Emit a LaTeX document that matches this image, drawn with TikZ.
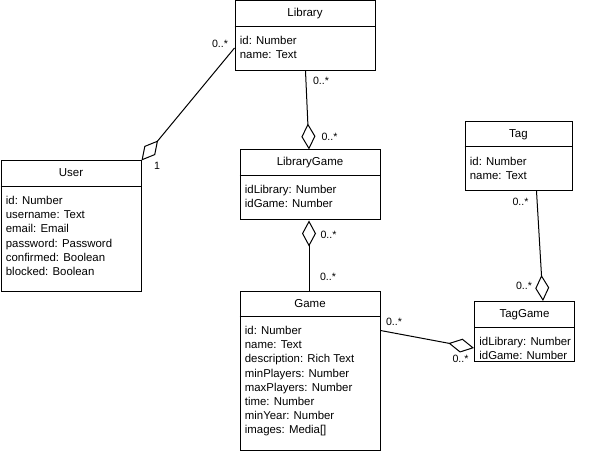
\documentclass[tikz,border=0pt]{standalone}
\usepackage{fontspec}
\setmainfont{Liberation Sans}
\usetikzlibrary{arrows.meta}

\tikzset{
  classbox/.style={draw, line width=1pt, inner sep=0pt, anchor=north west},
  classline/.style={line width=1pt},
  titletext/.style={inner sep=0pt, font=\fontsize{11.5pt}{14.2pt}\selectfont},
  attrtext/.style={inner sep=0pt, align=left, font=\fontsize{11.4pt}{14.2pt}\selectfont},
  lbl/.style={inner sep=0pt, font=\fontsize{10.6pt}{13pt}\selectfont},
  conn/.style={line width=1pt},
  aggend/.style={conn, -{Diamond[open, length=26pt, width=14pt]}},
  aggstart/.style={conn, {Diamond[open, length=26pt, width=14pt]}-},
}

\newcommand\umlclass[7]{%
  \node[classbox, minimum width=#4pt, minimum height=#5pt] (#1) at (#2,#3) {};
  \draw[classline] ([yshift=-26pt]#1.north west) -- ([yshift=-26pt]#1.north east);
  \node[titletext, anchor=base] (#1-title) at ([yshift=-16.5pt]#1.north) {#6};
  \node[attrtext, anchor=north west] (#1-attrs) at ([xshift=5.2pt, yshift=-35.6pt]#1.north west) {#7};
}

\begin{document}
\begin{tikzpicture}[x=1pt, y=-1pt]
\useasboundingbox (0,0) rectangle (615,454);

\umlclass{library}{234.5}{0.5}{140}{69.5}{Library}{id: Number\\name: Text}
\umlclass{user}{0.5}{160.5}{140}{130}{User}{id: Number\\username: Text\\email: Email\\password: Password\\confirmed: Boolean\\blocked: Boolean}
\umlclass{librarygame}{239.5}{149.5}{140}{70}{LibraryGame}{idLibrary: Number\\idGame: Number}
\umlclass{game}{239.5}{290.5}{140}{159}{Game}{id: Number\\name: Text\\description: Rich Text\\minPlayers: Number\\maxPlayers: Number\\time: Number\\minYear: Number\\images: Media[]}
\umlclass{tag}{464.5}{121}{107}{69}{Tag}{id: Number\\name: Text}
\umlclass{taggame}{474}{301}{100}{60}{TagGame}{idLibrary: Number\\idGame: Number}

% connectors
\draw[aggend] ([yshift=-47.5pt]library.north west) -- (user.north east);
\draw[aggend] ([xshift=71pt]library.south west) -- ([xshift=69.5pt]librarygame.north west);
\draw[aggstart] ([xshift=69.5pt]librarygame.south west) -- ([xshift=69.5pt]game.north west);
\draw[aggend] ([yshift=-40pt]game.north east) -- ([yshift=-47pt]taggame.north west);
\draw[aggend] ([xshift=72pt]tag.south west) -- ([xshift=69pt]taggame.north west);

% multiplicities
\node[lbl] (m1) at (220,44) {0..*};
\node[lbl] (m2) at (157,166) {1};
\node[lbl] (m3) at (321,81) {0..*};
\node[lbl] (m4) at (329.5,136.5) {0..*};
\node[lbl] (m5) at (328.5,234.5) {0..*};
\node[lbl] (m6) at (328,277) {0..*};
\node[lbl] (m7) at (394,322) {0..*};
\node[lbl] (m8) at (460.5,359) {0..*};
\node[lbl] (m9) at (520.5,201.5) {0..*};
\node[lbl] (m10) at (524,286) {0..*};
\end{tikzpicture}
\end{document}
